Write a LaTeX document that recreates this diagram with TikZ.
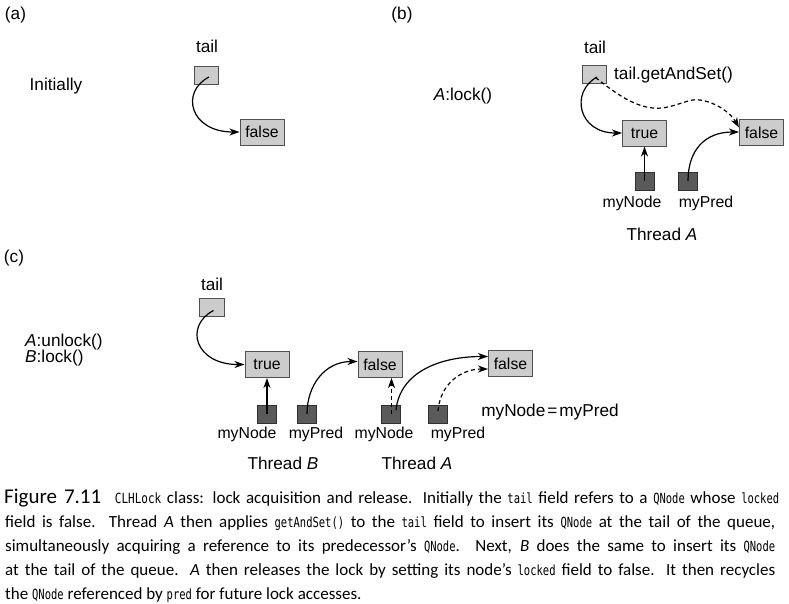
\documentclass[tikz,border=0pt]{standalone}
\usepackage{fontspec}
\usepackage{graphicx}
\setmainfont{Liberation Sans}
\newfontfamily\capfont{Carlito}
\newfontfamily\capmonofont{DejaVu Sans Mono}
\usetikzlibrary{arrows.meta,calc}
\newcommand\cmono[1]{\scalebox{0.75}[1]{\capmonofont\fontsize{14}{14}\selectfont #1}}
\definecolor{lightfill}{HTML}{CCCCCC}
\definecolor{boxline}{HTML}{505050}
\definecolor{darkfill}{HTML}{5A5A5A}
\definecolor{darkline}{HTML}{303030}
\tikzset{
  big/.style={font=\fontsize{17.2}{20}\selectfont, inner sep=0},
  small/.style={font=\fontsize{15.8}{18}\selectfont, inner sep=0},
  lbox/.style={draw=boxline, fill=lightfill, line width=1pt, minimum width=44pt, minimum height=26pt, inner sep=0, font=\fontsize{15.8}{18}\selectfont},
  tailbox/.style={draw=boxline, fill=lightfill, line width=1pt, minimum width=24.5pt, minimum height=18pt, inner sep=0},
  dbox/.style={draw=darkline, fill=darkfill, line width=1pt, minimum width=19pt, minimum height=18pt, inner sep=0},
  arr/.style={line width=1.2pt, -{Stealth[length=10pt,width=7pt,inset=3pt]}},
  darr/.style={arr, dash pattern=on 4pt off 3pt},
  capline/.style={anchor=base west, inner sep=0, font=\capfont\fontsize{17}{20}\selectfont},
}
\begin{document}
\begin{tikzpicture}[x=1pt,y=-1pt]
\useasboundingbox (0,0) rectangle (789,603);

% ---------- (a)
\node[big] (la) at (15.5,15) {(a)};
\node[big] (taila) at (207,46) {tail};
\node[tailbox] (ta) at (206.5,75) {};
\node[big] (init) at (56,86) {Initially};
\node[lbox] (fa) at (262,132) {false};
\draw[arr] ($(ta.center)+(2.5,2)$) .. controls (180,92) and (190,132) .. (fa.west);

% ---------- (b)
\node[big] (lb) at (402,15) {(b)};
\node[big] (tailb) at (595,47) {tail};
\node[tailbox] (tb) at (594.5,74.5) {};
\node[big, anchor=west] (gas) at (614,75) {tail.getAndSet()};
\node[big] (alock) at (463,96) {\textit{A}:lock()};
\node[lbox] (trueb) at (644.5,133) {true};
\node[lbox] (fb) at (761.5,132.5) {false};
\node[dbox] (mnb) at (644.5,181) {};
\node[dbox] (mpb) at (688,181) {};
\node[small] (mnbl) at (632,203) {myNode};
\node[small] (mpbl) at (706,203) {myPred};
\node[big] (thab) at (662,234) {Thread \textit{A}};
\draw[arr] ($(tb.center)+(2.5,2.5)$) .. controls (570,92) and (578,133) .. (trueb.west);
\draw[darr] ($(tb.center)+(1,3)$) .. controls (620,97) and (640,110) .. (662,108)
   .. controls (678,106) and (690,98) .. (700,100)
   .. controls (715,102) and (730,112) .. ($(fb.west)+(0,-5)$);
\draw[arr] (mnb.center) -- (trueb.south);
\draw[arr] (mpb.center) .. controls (688,150) and (705,132) .. ($(fb.west)+(0,-0.5)$);

% ---------- (c)
\node[big] (lc) at (14,258) {(c)};
\node[big] (tailc) at (212,284) {tail};
\node[tailbox] (tc) at (212,307.5) {};
\node[big, anchor=base west] (aun) at (25,346) {\textit{A}:unlock()};
\node[big, anchor=base west] (block) at (25,362) {\textit{B}:lock()};
\node[lbox] (truec) at (267,364.5) {true};
\node[lbox] (f1) at (380,364.5) {false};
\node[lbox] (f2) at (510.5,363.5) {false};
\node[dbox] (mnB) at (267,414) {};
\node[dbox] (mpB) at (307,414) {};
\node[dbox] (mnA) at (391,414) {};
\node[dbox] (mpA) at (438,414) {};
\node[small] (mnBl) at (247,434) {myNode};
\node[small] (mpBl) at (316,434) {myPred};
\node[small] (mnAl) at (384,434) {myNode};
\node[small] (mpAl) at (458,434) {myPred};
\node[big] (thB) at (283,463) {Thread \textit{B}};
\node[big] (thA) at (417,463) {Thread \textit{A}};
\node[big] (eq) at (550,412) {myNode\kern2pt=\kern2pt myPred};
\draw[arr] ($(tc.center)+(1.5,3)$) .. controls (184,326) and (195,364.5) .. (truec.west);
\draw[arr] (mnB.center) -- (truec.south);
\draw[arr] (mpB.center) .. controls (307,385) and (325,361.5) .. ($(f1.west)+(0,-3)$);
\draw[darr] ($(mnA.center)+(0.5,0)$) -- ($(mnA.center |- f1.south)+(0.5,0)$);
\draw[arr] ($(mnA.center)+(5,-4)$) .. controls (400,372) and (440,356.5) .. ($(f2.west)+(0,-7)$);
\draw[darr] ($(mpA.center)+(0,-3)$) .. controls (440,385) and (460,369) .. ($(f2.west)+(0,5.5)$);

% ---------- caption
\node[capline] (cap1) at (4,503) {\makebox[775pt][s]{{\fontsize{21}{21}\selectfont Figure 7.11}\hspace{8pt} \scalebox{1.05}[1]{\cmono{CLHLock}} class: lock acquisition and release. Initially the \cmono{tail} field refers to a \cmono{QNode} whose \cmono{locked}}};
\node[capline] (cap2) at (5,527) {\makebox[770pt][s]{field is false. Thread \textit{A} then applies \cmono{getAndSet()} to the \cmono{tail} field to insert its \cmono{QNode} at the tail of the queue,}};
\node[capline] (cap3) at (5,551) {\makebox[770pt][s]{simultaneously acquiring a reference to its predecessor’s \cmono{QNode}. Next, \textit{B} does the same to insert its \cmono{QNode}}};
\node[capline] (cap4) at (5,575) {\makebox[770pt][s]{at the tail of the queue. \textit{A} then releases the lock by setting its node’s \cmono{locked} field to false. It then recycles}};
\node[capline] (cap5) at (5,599) {the \cmono{QNode} referenced by \cmono{pred} for future lock accesses.};
\end{tikzpicture}
\end{document}
